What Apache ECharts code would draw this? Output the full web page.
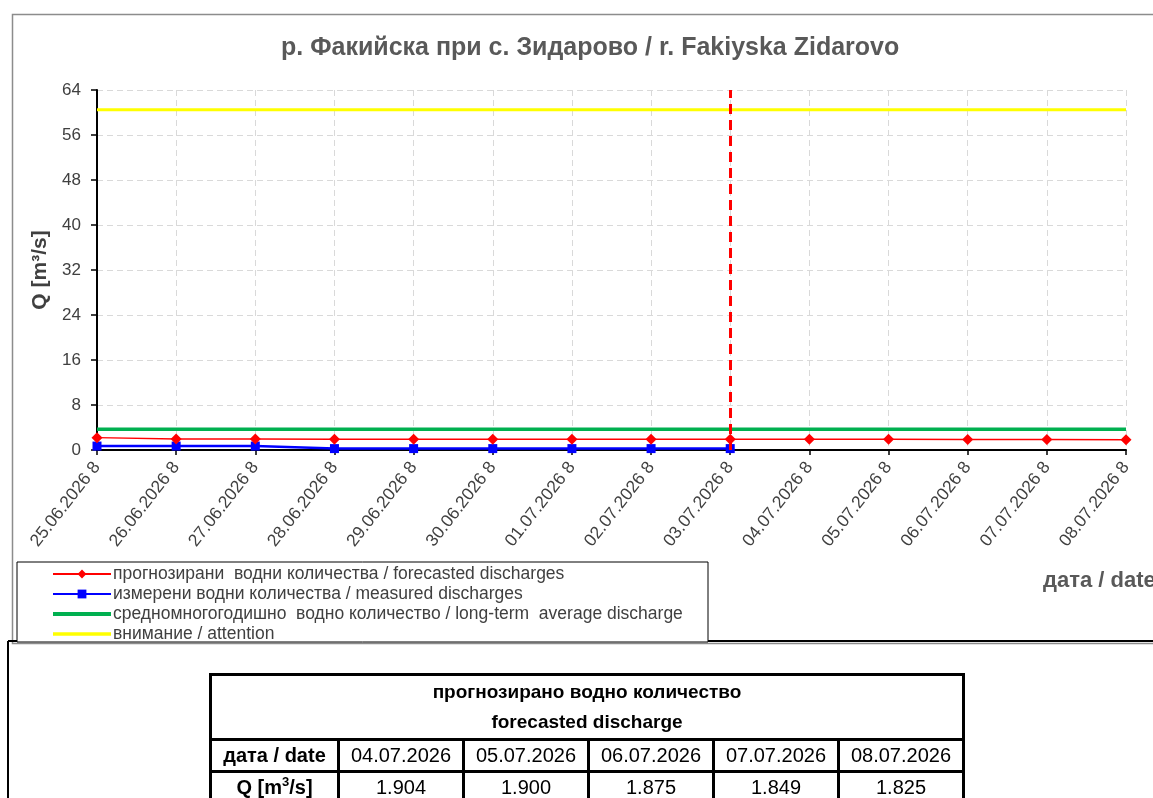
<!DOCTYPE html>
<html>
<head>
<meta charset="utf-8">
<script src="https://cdn.jsdelivr.net/npm/echarts@6/dist/echarts.min.js"></script>
<style>
  html, body { margin: 0; padding: 0; background: #fff; }
  #wrap { position: relative; width: 1153px; height: 798px; overflow: hidden; }
  #chart { position: absolute; left: 0; top: 0; width: 1153px; height: 798px; }
  #tbl {
    position: absolute; left: 209px; top: 673px; border-collapse: collapse; table-layout: fixed;
    font-family: "Liberation Sans", Arial, sans-serif;
    font-size: 20px; color: #000; border: 3px solid #000;
  }
  #tbl td { border: 3px solid #000; text-align: center; padding: 0; height: 29px; line-height: 29px; }
  #tbl td.hd { font-weight: bold; font-size: 19px; line-height: 30px; height: 62px; }
  #tbl td.lab { font-weight: bold; width: 125px; }
  #tbl td.val { width: 122px; }
</style>
</head>
<body>
<div id="wrap">
  <div id="chart"></div>
  <table id="tbl"></table>
</div>
<script>
const categories = ["25.06.2026 8", "26.06.2026 8", "27.06.2026 8", "28.06.2026 8", "29.06.2026 8",
  "30.06.2026 8", "01.07.2026 8", "02.07.2026 8", "03.07.2026 8", "04.07.2026 8",
  "05.07.2026 8", "06.07.2026 8", "07.07.2026 8", "08.07.2026 8"];
const forecasted = [2.2, 1.95, 1.95, 1.93, 1.93, 1.93, 1.93, 1.93, 1.92, 1.904, 1.900, 1.875, 1.849, 1.825];
const measured = [0.7, 0.7, 0.7, 0.25, 0.25, 0.25, 0.25, 0.25, 0.25, null, null, null, null, null];
const longTermAvg = [3.7, 3.7, 3.7, 3.7, 3.7, 3.7, 3.7, 3.7, 3.7, 3.7, 3.7, 3.7, 3.7, 3.7];
const attention = [60.5, 60.5, 60.5, 60.5, 60.5, 60.5, 60.5, 60.5, 60.5, 60.5, 60.5, 60.5, 60.5, 60.5];
const todayCategory = "03.07.2026 8";

const tableDates = ["04.07.2026", "05.07.2026", "06.07.2026", "07.07.2026", "08.07.2026"];
const tableValues = ["1.904", "1.900", "1.875", "1.849", "1.825"];

// table under the chart
const tbl = document.getElementById('tbl');
let html = '<tr><td class="hd" colspan="6">прогнозирано водно количество<br>forecasted discharge</td></tr>';
html += '<tr><td class="lab">дата / date</td>' + tableDates.map(d => '<td class="val">' + d + '</td>').join('') + '</tr>';
html += '<tr><td class="lab">Q [m<sup style="font-size:13px;line-height:0">3</sup>/s]</td>' + tableValues.map(v => '<td class="val">' + v + '</td>').join('') + '</tr>';
tbl.innerHTML = html;

const font = '"Liberation Sans", Arial, sans-serif';
const grey = '#404040';

const names = [
  'прогнозирани  водни количества / forecasted discharges',
  'измерени водни количества / measured discharges',
  'средномногогодишно  водно количество / long-term  average discharge',
  'внимание / attention'
];

const chart = echarts.init(document.getElementById('chart'), null, {renderer: 'canvas'});
chart.setOption({
  animation: false,
  textStyle: {fontFamily: font},
  title: {
    text: 'р. Факийска при с. Зидарово / r. Fakiyska Zidarovo',
    left: 276, top: 31,
    textStyle: {fontSize: 25, fontWeight: 'bold', color: '#595959', fontFamily: font}
  },
  grid: {left: 97, right: 27, top: 90, bottom: 348},
  graphic: [
    {type: 'rect', left: 10, top: 12, shape: {width: 1160, height: 629}, style: {fill: 'none', stroke: '#8c8c8c', lineWidth: 1.5}, z: -1},
    {type: 'line', shape: {x1: 8, y1: 641, x2: 1153, y2: 641}, style: {stroke: '#000', lineWidth: 2}},
    {type: 'line', shape: {x1: 8, y1: 641, x2: 8, y2: 798}, style: {stroke: '#000', lineWidth: 2}},
    {type: 'rect', shape: {x: 17, y: 562, width: 691, height: 80}, style: {fill: '#fff', stroke: '#000', lineWidth: 1}},
    {type: 'text', left: 1043, top: 570, style: {text: 'дата / date', fontSize: 22, fontWeight: 'bold', fill: '#595959', fontFamily: font}}
  ],
  legend: {
    orient: 'vertical', left: 51, top: 564, itemGap: 0, itemWidth: 58, itemHeight: 11, padding: 0,
    textStyle: {fontSize: 17.5, lineHeight: 20, color: grey, fontFamily: font, padding: [0, 0, 0, -3]},
    data: [
      {name: names[0]},
      {name: names[1]},
      {name: names[2], itemStyle: {opacity: 0}, lineStyle: {width: 4}},
      {name: names[3], itemStyle: {opacity: 0}, lineStyle: {width: 3.5}}
    ]
  },
  xAxis: {
    type: 'category', data: categories, boundaryGap: false,
    axisLine: {lineStyle: {color: '#000', width: 2}},
    axisTick: {show: true, length: 5, lineStyle: {color: '#000', width: 1.5}},
    splitLine: {show: true, lineStyle: {color: '#d9d9d9', type: [6, 4]}},
    axisLabel: {rotate: 52, fontSize: 17.5, color: grey, margin: 14, interval: 0}
  },
  yAxis: {
    type: 'value', min: 0, max: 64, interval: 8,
    name: 'Q [m³/s]', nameLocation: 'middle', nameGap: 46,
    nameTextStyle: {fontSize: 21, fontWeight: 'bold', color: grey},
    axisLine: {show: true, lineStyle: {color: '#000', width: 2}},
    axisTick: {show: true, length: 6, lineStyle: {color: '#000', width: 1.5}},
    splitLine: {show: true, lineStyle: {color: '#d9d9d9', type: [6, 4]}},
    axisLabel: {fontSize: 17, color: grey, margin: 16}
  },
  series: [
    {
      name: names[2],
      type: 'line', data: longTermAvg, symbol: 'none',
      lineStyle: {color: '#00b050', width: 3.5}, itemStyle: {color: '#00b050'}, z: 2
    },
    {
      name: names[3],
      type: 'line', data: attention, symbol: 'none',
      lineStyle: {color: '#ffff00', width: 3}, itemStyle: {color: '#ffff00'}, z: 2
    },
    {
      name: names[1],
      type: 'line', data: measured, symbol: 'rect', symbolSize: 9,
      lineStyle: {color: '#0000ff', width: 2.5}, itemStyle: {color: '#0000ff'}, z: 3
    },
    {
      name: names[0],
      type: 'line', data: forecasted, symbol: 'diamond', symbolSize: 11,
      lineStyle: {color: '#ff0000', width: 1.5}, itemStyle: {color: '#ff0000'}, z: 4,
      markLine: {
        silent: true, symbol: 'none', label: {show: false},
        lineStyle: {color: '#ff0000', width: 3, type: [10, 6]},
        data: [{xAxis: todayCategory}]
      }
    }
  ]
});
</script>
</body>
</html>
